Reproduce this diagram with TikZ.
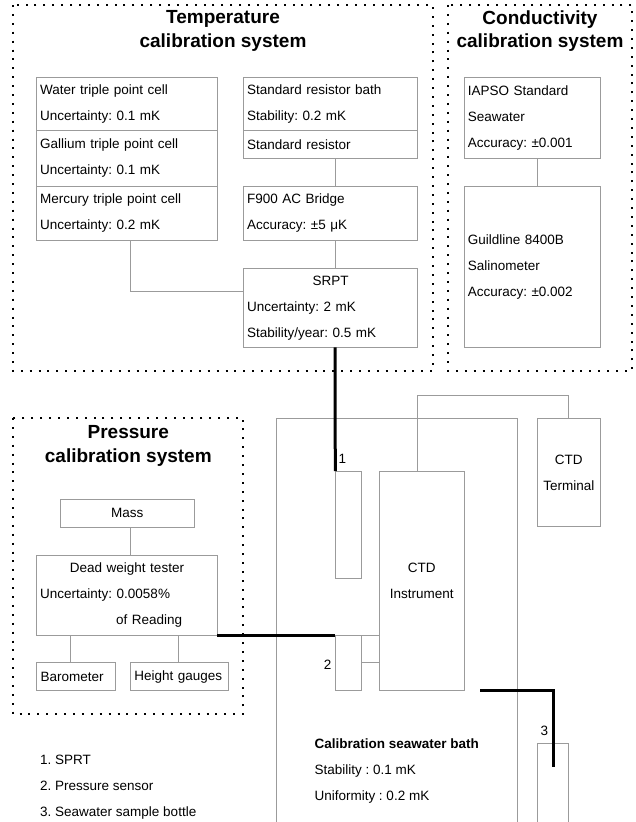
\documentclass[tikz,border=0pt]{standalone}
\usepackage{fontspec}
\setmainfont{Liberation Sans}
\usepackage{tikz}

\newcommand{\bodytext}{\fontsize{13.5}{26}\selectfont\frenchspacing}
\newcommand{\titletext}{\fontsize{19}{23.5}\selectfont\bfseries}

\begin{document}
\begin{tikzpicture}[x=1pt, y=-1pt,
    unit/.style={draw=wiregray, line width=0.8pt, outer sep=0pt, inner xsep=3.5pt,
        inner ysep=0pt, anchor=north west, font=\bodytext, align=left},
    unitbox/.style 2 args={unit, text width=#1, minimum height=#2},
    wire/.style={draw=wiregray, line width=0.8pt},
    probe/.style={draw=black, line width=3pt},
    zone/.style={line width=2pt, dash pattern=on 2pt off 6.9pt},
    zonetitle/.style={font=\titletext, align=center, inner sep=0pt},
    tag/.style={font=\bodytext, inner sep=0pt}]
    % Colours
    \definecolor{wiregray}{RGB}{155,155,155}

    % Page frame
    \useasboundingbox (0,0) rectangle (635,822);

    % Dotted system zones
    \draw[zone] (13,5) rectangle (433,371);
    \draw[zone] (448,5) rectangle (632,371);
    \draw[zone] (13,418) rectangle (243.3,714);

    \node[zonetitle] (temptitle) at (223,31) {Temperature\\calibration system};
    \node[zonetitle] (condtitle) at (540,31) {Conductivity\\calibration system};
    \node[zonetitle] (prestitle) at (128.3,446) {Pressure\\calibration system};

    % Temperature calibration system
    \node[unitbox={173.6pt}{53.4pt}] (water) at (36.7,77.3)
        {Water triple point cell\\Uncertainty: 0.1 mK};
    \node[unitbox={173.6pt}{55.3pt}] (gallium) at (36.7,130.7)
        {Gallium triple point cell\\Uncertainty: 0.1 mK};
    \node[unitbox={173.6pt}{54pt}] (mercury) at (36.7,186)
        {Mercury triple point cell\\Uncertainty: 0.2 mK};
    \node[unitbox={166.6pt}{53.4pt}] (bath) at (243.7,77.3)
        {Standard resistor bath\\Stability: 0.2 mK};
    \node[unitbox={166.6pt}{27.6pt}] (stdres) at (243.7,130.7)
        {Standard resistor};
    \node[unitbox={166.6pt}{53.3pt}] (bridge) at (243.7,186.7)
        {F900 AC Bridge\\Accuracy: ±5 μK};
    \node[unitbox={166.6pt}{79pt}] (srpt) at (243.7,268.3)
        {\makebox[\hsize][c]{SRPT}\\Uncertainty: 2 mK\\Stability/year: 0.5 mK};

    \draw[wire] ([xshift=4.5pt]stdres.south) -- ([xshift=4.5pt]bridge.north);
    \draw[wire] ([xshift=4.5pt]bridge.south) -- ([xshift=4.5pt]srpt.north);
    \draw[wire] ([xshift=3.7pt]mercury.south) |- ([yshift=16.8pt]srpt.west);

    % Conductivity calibration system
    \node[unitbox={129.4pt}{81pt}] (iapso) at (464.3,77.3)
        {IAPSO Standard\\Seawater\\Accuracy: ±0.001};
    \node[unitbox={129.4pt}{160.6pt}] (guildline) at (464.3,186.7)
        {Guildline 8400B\\Salinometer\\Accuracy: ±0.002};

    \draw[wire] ([xshift=5.2pt]iapso.south) -- ([xshift=5.2pt]guildline.north);

    % Pressure calibration system
    \node[unitbox={126.7pt}{28.3pt}, align=center] (mass) at (60.3,499) {Mass};
    \node[unitbox={173.6pt}{80pt}] (dwt) at (36.7,555)
        {\makebox[\hsize][c]{Dead weight tester}\\Uncertainty: 0.0058\%\\\hspace*{76pt}of Reading};
    \node[unitbox={70.6pt}{28pt}, inner xsep=4pt] (baro) at (36.7,662.7) {Barometer};
    \node[unitbox={89.7pt}{28pt}, inner xsep=4pt] (height) at (130.3,662.7) {Height gauges};

    \draw[wire] ([xshift=3.5pt]mass.south) -- ([xshift=3.5pt]mass.south |- dwt.north);
    \draw[wire] (dwt.south -| 70.7,0) -- (baro.north -| 70.7,0);
    \draw[wire] (height.north -| 178.3,0) -- (dwt.south -| 178.3,0);

    % Calibration seawater bath
    \draw[wire] (276.7,822) |- (517.3,418.3) -- (517.3,822);
    \node[unitbox={19pt}{107.3pt}] (sensor1) at (335.3,471) {};
    \node[unitbox={19pt}{55pt}] (sensor2) at (335.3,635) {};
    \node[unitbox={78.3pt}{219pt}, align=center] (ctd) at (379,471) {CTD\\Instrument};
    \node[unitbox={56pt}{108.4pt}, align=center] (terminal) at (537.3,418.3) {CTD\\Terminal};
    \draw[wire] (537.7,822) |- (568.7,743.3) -- (568.7,822);
    \coordinate (bottletip) at (553.3,766.7);

    \draw[wire] (sensor2.north east) -- (sensor2.north east -| ctd.west);
    \draw[wire] (sensor2.east) -- (sensor2.east -| ctd.west);
    \draw[wire] (ctd.north -| 417.3,0) -- (417.3,395) -| (terminal.north);

    \node[tag] (num1) at (342.3,459) {1};
    \node[tag] (num2) at (327.7,664.3) {2};
    \node[tag] (num3) at (544.3,730.7) {3};

    \node[tag, align=left, anchor=west] (bathtext) at (314.3,770.7)
        {\textbf{Calibration seawater bath}\\Stability : 0.1 mK\\Uniformity : 0.2 mK};

    % Probes into the bath
    \draw[probe] ([xshift=4.5pt]srpt.south) -- (sensor1.north west);
    \draw[probe] (dwt.south east) -- (sensor2.north west);
    \draw[probe] ([xshift=15.7pt]ctd.south east) -| (bottletip);

    % Legend
    \node[tag, align=left, anchor=west] (legend) at (40,786.7)
        {1. SPRT\\2. Pressure sensor\\3. Seawater sample bottle};

\end{tikzpicture}
\end{document}
